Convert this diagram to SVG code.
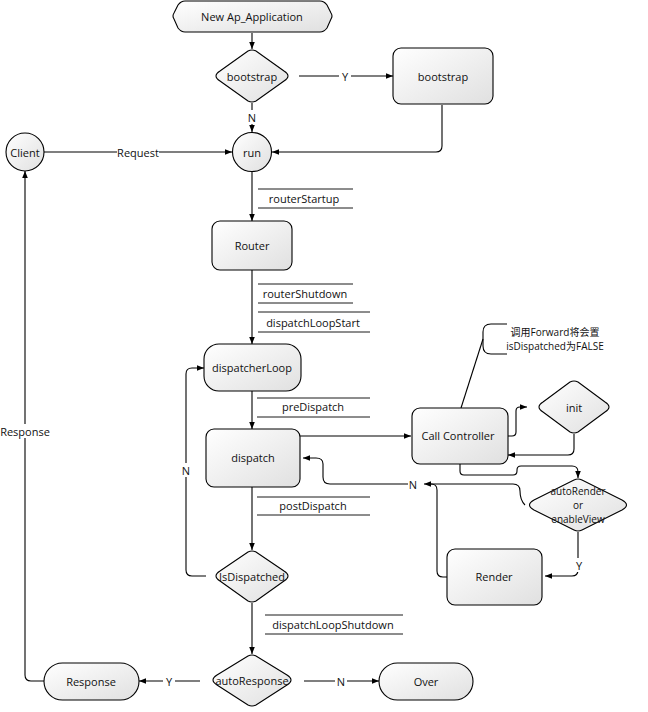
<svg xmlns="http://www.w3.org/2000/svg" width="648" height="712" viewBox="0 0 648 712">
<defs>
<linearGradient id="g" x1="0" y1="0" x2="1" y2="1">
<stop offset="0" stop-color="#ffffff"/>
<stop offset="1" stop-color="#e0e0e0"/>
</linearGradient>
<marker id="a" viewBox="0 0 10 10" refX="10" refY="5" markerWidth="7" markerHeight="7" orient="auto" markerUnits="userSpaceOnUse">
<path d="M0,1 L10,5 L0,9 Z" fill="#000"/>
</marker>
</defs>
<style>
.n{fill:url(#g);stroke:#000;stroke-width:1.1}
.t{font-family:"Open Sans","Noto Sans","Noto Sans CJK SC",sans-serif;font-size:11px;fill:#111;text-anchor:middle;dominant-baseline:central}
.s{font-size:10px}
.c{fill:none;stroke:#000;stroke-width:1.1}
.ca{fill:none;stroke:#000;stroke-width:1.1;marker-end:url(#a)}
.l{stroke:#000;stroke-width:0.9}
.bg{fill:#fff}
</style>
<rect width="648" height="712" fill="#fff"/>

<g id="connectors">
<path class="ca" d="M252,33 V49"/>
<path class="ca" d="M299,76 H393"/>
<path class="ca" d="M252,103 V132"/>
<path class="ca" d="M442,105 V146 Q442,152 436,152 H272"/>
<path class="ca" d="M44,152 H232"/>
<path class="ca" d="M252,171 V221"/>
<path class="ca" d="M252,270 V344"/>
<path class="ca" d="M252,391 V429"/>
<path class="ca" d="M252,487 V550"/>
<path class="ca" d="M252,603 V654"/>
<path class="ca" d="M304,681 H379"/>
<path class="ca" d="M200,681 H139"/>
<path class="ca" d="M44,681 H31 Q25,681 25,675 V171"/>
<path class="ca" d="M206,576 H192 Q186,576 186,570 V374 Q186,368 192,368 H204"/>
<path class="ca" d="M300,436 H411"/>
<path class="ca" d="M508,436 H512 Q516,436 516,432 V411 Q516,407 520,407 H527"/>
<path class="ca" d="M574,434 V449 Q574,455 568,455 H508"/>
<path class="ca" d="M460,464 V471 Q460,475 464,475 H513 Q517,475 517,471 V470 Q517,466 521,466 H572 Q578,466 578,472 V478"/>
<path class="ca" d="M525,505 Q520,500 520,491 Q520,484 513,484 H424"/>
<path class="c" d="M447,577 H443 Q437,577 437,571 V490 Q437,484 431,484"/>
<path class="ca" d="M408,484 H330 Q323,484 323,477 V464 Q323,458 316,458 H303"/>
<path class="ca" d="M578,532 V570 Q578,576 572,576 H545"/>
<path class="c" d="M461,408 L483,339"/>
<path class="c" d="M507,324 H491 Q483,324 483,332 V346 Q483,354 491,354 H507"/>

<rect class="bg" x="339" y="69" width="12" height="14"/>
<text class="t" x="345" y="76">Y</text>
<rect class="bg" x="246" y="110" width="12" height="14"/>
<text class="t" x="252" y="117">N</text>
<rect class="bg" x="117" y="145" width="42" height="14"/>
<text class="t" x="138" y="152">Request</text>
<rect class="bg" x="0" y="424" width="50" height="14"/>
<text class="t" x="25" y="431">Response</text>
<rect class="bg" x="180" y="463" width="12" height="14"/>
<text class="t" x="186" y="470">N</text>
<rect class="bg" x="335" y="674" width="12" height="14"/>
<text class="t" x="341" y="681">N</text>
<rect class="bg" x="163" y="674" width="12" height="14"/>
<text class="t" x="169" y="681">Y</text>
<text class="t" x="413" y="484">N</text>
<rect class="bg" x="573" y="558" width="12" height="14"/>
<text class="t" x="579" y="565">Y</text>

<line class="l" x1="258" y1="189" x2="353" y2="189"/>
<line class="l" x1="258" y1="208" x2="353" y2="208"/>
<text class="t" x="304" y="198">routerStartup</text>
<line class="l" x1="258" y1="284" x2="353" y2="284"/>
<line class="l" x1="258" y1="303" x2="353" y2="303"/>
<text class="t" x="305" y="293">routerShutdown</text>
<line class="l" x1="258" y1="312" x2="370" y2="312"/>
<line class="l" x1="258" y1="332" x2="370" y2="332"/>
<text class="t" x="313" y="322">dispatchLoopStart</text>
<line class="l" x1="257" y1="398" x2="370" y2="398"/>
<line class="l" x1="257" y1="417" x2="370" y2="417"/>
<text class="t" x="313" y="406">preDispatch</text>
<line class="l" x1="257" y1="497" x2="370" y2="497"/>
<line class="l" x1="257" y1="515" x2="370" y2="515"/>
<text class="t" x="313" y="505">postDispatch</text>
<line class="l" x1="265" y1="615" x2="403" y2="615"/>
<line class="l" x1="265" y1="634" x2="403" y2="634"/>
<text class="t" x="333" y="624">dispatchLoopShutdown</text>
<text class="t s" x="555" y="332">调用Forward将会置</text>
<text class="t s" x="555" y="346">isDispatched为FALSE</text>
</g>

<g id="new-app">
<path class="n" d="M185,1 H320 Q324,1 327,5 L331,13 Q333,16 331,19 L327,28 Q324,32 320,32 H185 Q181,32 178,28 L174,19 Q172,16 174,13 L178,5 Q181,1 185,1 Z"/>
<text class="t" x="252" y="16">New Ap_Application</text>
</g>
<g id="bootstrap-decision">
<path class="n" d="M248,51 Q252,49 256,51 L284,71 Q292,76 284,81 L256,101 Q252,103 248,101 L220,81 Q212,76 220,71 Z"/>
<text class="t" x="252" y="76">bootstrap</text>
</g>
<g id="bootstrap">
<rect class="n" x="393" y="48" width="100" height="56" rx="8"/>
<text class="t" x="443" y="76">bootstrap</text>
</g>
<g id="client">
<circle class="n" cx="25" cy="152" r="19"/>
<text class="t" x="25" y="152">Client</text>
</g>
<g id="run">
<circle class="n" cx="252" cy="152" r="19.5"/>
<text class="t" x="252" y="152">run</text>
</g>
<g id="router">
<rect class="n" x="212" y="221" width="80" height="49" rx="8"/>
<text class="t" x="252" y="245">Router</text>
</g>
<g id="dispatcherLoop">
<rect class="n" x="204" y="344" width="97" height="47" rx="15"/>
<text class="t" x="252" y="367">dispatcherLoop</text>
</g>
<g id="dispatch">
<rect class="n" x="206" y="429" width="94" height="58" rx="8"/>
<text class="t" x="253" y="457">dispatch</text>
</g>
<g id="call-controller">
<rect class="n" x="412" y="408" width="96" height="56" rx="8"/>
<text class="t" x="458" y="435">Call Controller</text>
</g>
<g id="init">
<path class="n" d="M570,382 Q574,380 578,382 L605,402 Q613,407 605,412 L578,432 Q574,434 570,432 L543,412 Q535,407 543,402 Z"/>
<text class="t" x="574" y="407">init</text>
</g>
<g id="autoRender">
<path class="n" d="M574,480 Q578,478 582,480 L622,500 Q631,505 622,510 L582,530 Q578,532 574,530 L534,510 Q525,505 534,500 Z"/>
<text class="t s" x="578" y="491">autoRender</text>
<text class="t s" x="578" y="505">or</text>
<text class="t s" x="578" y="519">enableView</text>
</g>
<g id="render">
<rect class="n" x="447" y="549" width="95" height="56" rx="8"/>
<text class="t" x="494" y="576">Render</text>
</g>
<g id="isDispatched">
<path class="n" d="M248,552 Q252,550 256,552 L284,571 Q292,576 284,581 L256,601 Q252,603 248,601 L220,581 Q212,576 220,571 Z"/>
<text class="t" x="252" y="576">IsDispatched</text>
</g>
<g id="autoResponse">
<path class="n" d="M248,656 Q252,654 256,656 L287,675 Q295,680 287,685 L256,705 Q252,707 248,705 L217,685 Q209,680 217,675 Z"/>
<text class="t" x="252" y="680">autoResponse</text>
</g>
<g id="response">
<rect class="n" x="44" y="663" width="95" height="37" rx="18.5"/>
<text class="t" x="91" y="681">Response</text>
</g>
<g id="over">
<rect class="n" x="379" y="663" width="94" height="37" rx="18.5"/>
<text class="t" x="426" y="681">Over</text>
</g>
</svg>
